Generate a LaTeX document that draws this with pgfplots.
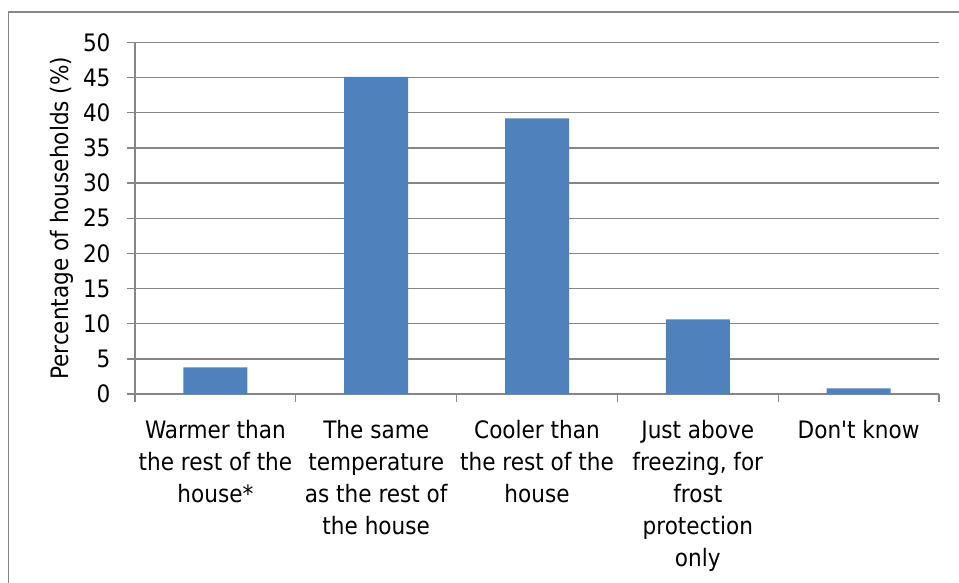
\documentclass[border=0pt]{standalone}
\usepackage{fontspec}
\setmainfont{DejaVu Sans Condensed}
\usepackage{pgfplots}
\pgfplotsset{compat=1.18}
\definecolor{barblue}{HTML}{4F81BD}
\definecolor{gridgray}{HTML}{868686}
\begin{document}
\begin{tikzpicture}[font=\fontsize{24bp}{32bp}\selectfont]
\clip (-135bp,-189bp) rectangle (824bp,394bp);
% outer frame of the chart area (right and bottom fall outside the crop)
\draw[gridgray, line width=1.3bp] (-126.5bp,-220bp) |- (860bp,382bp);
\begin{axis}[
    scale only axis,
    width=804bp, height=351.5bp,
    xmin=-0.5, xmax=4.5,
    ymin=0, ymax=50,
    ytick={0,5,...,50},
    xtick={-0.5,0.5,...,4.5},
    xticklabels={,,,,,},
    extra x ticks={0,1,2,3,4},
    extra x tick labels={{Warmer than\\the rest of the\\house*},
        {The same\\temperature\\as the rest of\\the house},
        {Cooler than\\the rest of the\\house},
        {Just above\\freezing, for\\frost\\protection\\only},
        {Don\textquotesingle t know}},
    extra x tick style={tick style={draw=none}},
    axis x line=bottom, axis y line=left,
    axis line style={gridgray, line width=1.3bp, -},
    tick style={gridgray, line width=1.3bp},
    tick align=outside,
    major tick length=8bp,
    ymajorgrids,
    grid style={gridgray, line width=1.3bp},
    /pgf/number format/assume math mode=true,
    x tick label style={align=center, anchor=north, yshift=-15bp},
    y tick label style={anchor=east, xshift=-13bp},
    ylabel={Percentage of households (\%)},
    ylabel style={at={(axis description cs:-0.091,0.5)}, anchor=center},
]
\addplot[ybar, bar width=64bp, fill=barblue, draw=none]
    coordinates {(0,3.8) (1,45.1) (2,39.2) (3,10.6) (4,0.8)};
\end{axis}
\end{tikzpicture}
\end{document}
